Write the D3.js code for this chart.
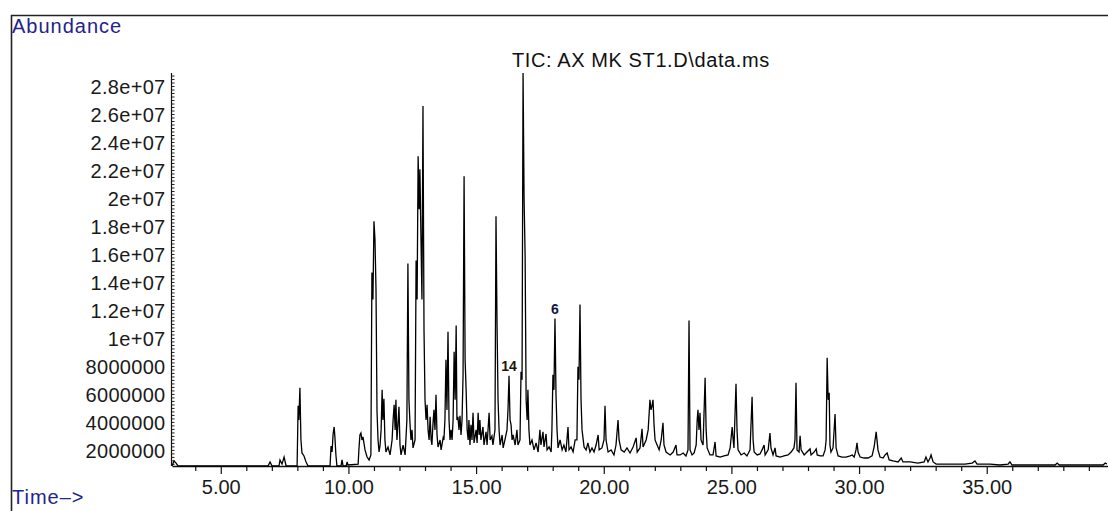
<!DOCTYPE html>
<html><head><meta charset="utf-8">
<script src="https://cdn.jsdelivr.net/npm/d3@7"></script>
<style>
body{margin:0;background:#fff;}
svg{display:block;}
text{font-family:"Liberation Sans",Arial,sans-serif;}
</style></head><body>
<svg id="chart" width="1108" height="511"></svg>
<script>
// ---------- data ----------
const titleText = "TIC: AX MK ST1.D\\data.ms";
const yAxisTitle = "Abundance";
const xAxisTitle = "Time\u2013>";
const yTickValues = [2e6,4e6,6e6,8e6,1e7,1.2e7,1.4e7,1.6e7,1.8e7,2e7,2.2e7,2.4e7,2.6e7,2.8e7];
const yTickLabels = ["2000000","4000000","6000000","8000000","1e+07","1.2e+07","1.4e+07","1.6e+07","1.8e+07","2e+07","2.2e+07","2.4e+07","2.6e+07","2.8e+07"];
const xTickValues = [5,10,15,20,25,30,35];
const xTickLabels = ["5.00","10.00","15.00","20.00","25.00","30.00","35.00"];
const timeDomain = [3.09, 39.75];        // minutes
const abundanceDomain = [850000, 2.893e7];
// TIC trace: [retention time (min), abundance (millions of counts)]
const ticTrace = [
[3.09,0.85],[3.17,1.21],[3.25,1.06],[3.33,0.85],
[6.85,0.85],[6.93,1.14],[7.01,0.85],
[7.28,0.85],[7.32,1.28],[7.40,0.99],[7.48,1.49],[7.56,0.85],
[7.99,0.85],[8.03,5.15],[8.06,4.14],[8.10,6.44],[8.14,2.71],[8.18,1.78],[8.26,1.57],[8.34,1.14],[8.42,0.85],
[9.28,0.85],[9.32,2.28],[9.36,1.85],[9.40,3.14],[9.44,3.64],[9.47,2.93],[9.51,1.64],[9.55,0.85],
[9.71,0.85],[9.75,1.28],[9.79,0.85],[9.91,0.85],[9.95,1.14],[9.98,0.92],
[10.38,0.99],[10.41,2.0],[10.45,3.07],[10.49,3.21],[10.53,2.71],[10.57,2.93],[10.65,2.0],[10.73,1.49],[10.81,1.28],[10.88,1.64],
[10.92,14.67],[10.96,12.74],[11.00,18.33],[11.04,17.04],[11.08,13.46],[11.12,4.72],[11.16,2.71],[11.20,1.85],[11.24,2.35],[11.28,3.43],
[11.32,6.29],[11.35,4.14],[11.39,5.65],[11.43,2.71],[11.47,1.85],[11.55,2.21],[11.63,1.64],[11.71,2.71],[11.75,4.14],[11.79,5.22],
[11.83,3.43],[11.86,5.58],[11.90,2.71],[11.94,3.79],[11.98,5.08],[12.02,2.35],[12.06,1.64],[12.14,2.35],[12.22,1.64],[12.29,4.14],
[12.33,15.32],[12.37,5.58],[12.41,3.93],[12.45,2.71],[12.49,3.43],[12.53,2.14],[12.61,2.71],[12.65,15.53],[12.69,12.74],[12.73,22.98],
[12.77,19.19],[12.80,22.05],[12.84,17.25],[12.88,12.74],[12.92,26.57],[12.96,10.59],[13.00,5.58],[13.04,4.14],[13.08,5.22],[13.12,3.43],
[13.16,2.71],[13.20,4.36],[13.24,2.71],[13.27,2.35],[13.31,3.79],[13.35,4.86],[13.39,3.43],[13.43,5.94],[13.47,3.07],[13.51,2.21],
[13.59,2.71],[13.63,2.0],[13.71,2.86],[13.74,2.71],[13.78,4.14],[13.82,8.44],[13.86,4.86],[13.90,10.45],[13.94,4.14],[13.98,2.71],
[14.02,3.43],[14.06,2.71],[14.10,4.14],[14.14,9.02],[14.18,5.58],[14.22,10.88],[14.25,4.14],[14.29,4.36],[14.33,3.43],[14.37,4.43],
[14.41,3.07],[14.45,4.14],[14.49,7.37],[14.53,21.55],[14.57,8.44],[14.61,6.29],[14.65,3.43],[14.69,2.71],[14.72,4.14],[14.76,2.35],
[14.80,3.79],[14.84,2.71],[14.88,4.65],[14.92,2.5],[15.00,3.43],[15.04,2.5],[15.08,4.65],[15.12,3.07],[15.15,4.14],[15.19,2.71],
[15.27,3.64],[15.31,2.35],[15.39,3.29],[15.43,2.35],[15.51,4.65],[15.55,2.71],[15.62,3.0],[15.66,2.35],[15.74,3.43],[15.78,18.69],
[15.82,11.09],[15.86,5.58],[15.90,3.43],[15.94,2.35],[16.02,3.07],[16.06,2.14],[16.13,2.71],[16.21,3.43],[16.25,4.86],[16.29,7.30],
[16.33,4.14],[16.37,3.79],[16.41,2.71],[16.45,3.07],[16.53,2.35],[16.60,3.43],[16.64,2.35],[16.72,2.71],[16.76,7.58],[16.80,7.01],
[16.84,28.93],[16.88,19.9],[16.92,15.96],[16.96,5.58],[17.00,4.14],[17.03,6.29],[17.07,3.43],[17.11,2.35],[17.19,2.71],[17.27,2.0],
[17.35,2.5],[17.43,1.85],[17.50,3.43],[17.54,2.35],[17.62,3.29],[17.66,2.21],[17.74,3.14],[17.78,2.0],[17.86,2.21],[17.94,1.85],
[17.97,3.43],[18.01,7.37],[18.05,6.29],[18.09,11.38],[18.13,5.94],[18.17,3.43],[18.21,2.14],[18.29,2.71],[18.37,2.0],[18.44,2.35],
[18.52,1.85],[18.60,3.64],[18.64,2.0],[18.72,2.21],[18.80,1.85],[18.88,2.71],[18.95,2.71],[18.99,7.94],[19.03,7.01],[19.07,12.38],
[19.11,5.58],[19.15,3.43],[19.23,2.21],[19.31,2.0],[19.38,2.5],[19.46,1.85],[19.54,2.14],[19.62,1.85],[19.70,2.35],[19.78,3.07],
[19.82,2.0],[19.93,2.14],[20.01,2.71],[20.05,5.15],[20.09,2.71],[20.17,1.85],[20.29,2.0],[20.40,1.64],[20.48,2.35],[20.56,4.14],
[20.60,2.71],[20.68,2.0],[20.80,1.85],[20.91,2.14],[21.03,1.78],[21.15,2.21],[21.27,2.86],[21.31,1.85],[21.42,2.14],[21.50,3.50],
[21.54,2.21],[21.66,2.71],[21.74,3.43],[21.81,5.58],[21.85,4.86],[21.89,5.15],[21.93,5.58],[21.97,3.79],[22.01,2.71],[22.09,2.35],
[22.17,2.0],[22.25,2.71],[22.32,3.93],[22.36,2.35],[22.44,1.85],[22.60,1.64],[22.72,1.85],[22.83,2.35],[22.87,1.64],[22.99,1.64],
[23.11,1.78],[23.22,1.57],[23.30,2.0],[23.34,11.24],[23.38,2.0],[23.46,1.64],[23.54,1.78],[23.62,2.35],[23.66,4.14],[23.69,4.86],
[23.73,3.43],[23.77,4.65],[23.81,2.71],[23.89,2.35],[23.97,7.15],[24.01,3.43],[24.05,2.14],[24.16,1.64],[24.28,1.64],[24.36,2.57],
[24.40,1.57],[24.56,1.49],[24.71,1.57],[24.87,1.64],[24.95,2.14],[25.03,3.64],[25.07,2.71],[25.10,2.14],[25.18,6.72],[25.22,3.43],
[25.26,2.0],[25.38,1.64],[25.50,1.78],[25.61,1.57],[25.73,2.0],[25.81,5.79],[25.85,2.71],[25.89,1.85],[26.01,1.64],[26.12,1.71],
[26.20,2.0],[26.28,2.35],[26.32,1.64],[26.44,2.0],[26.51,3.21],[26.55,2.14],[26.63,1.64],[26.71,2.14],[26.75,1.57],[26.91,1.49],
[27.06,1.57],[27.22,1.64],[27.34,1.85],[27.45,2.14],[27.49,2.71],[27.53,6.8],[27.57,2.0],[27.65,1.85],[27.69,3.0],[27.73,2.0],
[27.85,1.64],[27.96,1.85],[28.08,2.07],[28.12,1.64],[28.24,1.85],[28.32,2.07],[28.36,1.64],[28.47,1.57],[28.59,1.57],[28.67,2.0],
[28.71,2.71],[28.75,8.59],[28.79,5.58],[28.83,6.08],[28.86,2.35],[28.90,1.85],[28.98,2.14],[29.06,4.57],[29.10,2.14],[29.18,1.57],
[29.33,1.49],[29.49,1.49],[29.65,1.57],[29.73,1.64],[29.81,1.49],[29.88,2.0],[29.92,2.5],[29.96,1.85],[30.04,1.49],[30.20,1.42],
[30.35,1.42],[30.51,1.57],[30.59,2.21],[30.67,3.29],[30.71,2.57],[30.74,2.0],[30.82,1.49],[30.94,1.42],[31.02,1.64],[31.10,1.78],
[31.18,1.28],[31.33,1.21],[31.53,1.14],[31.65,1.42],[31.72,1.14],[32.00,1.14],[32.31,1.06],[32.55,1.14],[32.62,1.49],[32.70,1.14],
[32.78,1.42],[32.82,1.64],[32.90,1.14],[33.02,0.99],[33.37,0.99],[33.76,0.99],[34.15,0.99],[34.43,1.06],[34.54,1.21],[34.62,0.99],
[35.13,0.99],[35.52,0.92],[35.84,0.99],[35.91,1.14],[35.99,0.92],[36.70,0.92],[37.09,0.92],[37.68,0.92],[37.76,1.06],[37.84,0.92],
[38.46,0.92],[39.05,0.92],[39.56,0.92],[39.64,1.06],[39.71,0.99]
];
const peakLabels = ["14", "6"];
const peakTimes = [16.29, 18.09];
const peakAbundances = [7.30e6, 11.38e6];

// ---------- drawing ----------
const svg = d3.select("#chart");
const navy = "#23238c";
const x = d3.scaleLinear().domain(timeDomain).range([172, 1108]);
const y = d3.scaleLinear().domain(abundanceDomain).range([466, 73]);

// outer frame
svg.append("line").attr("x1",11.5).attr("x2",11.5).attr("y1",15).attr("y2",511)
  .attr("stroke","#222").attr("stroke-width",1.6);
svg.append("line").attr("x1",11).attr("x2",1108).attr("y1",15.5).attr("y2",15.5)
  .attr("stroke","#222").attr("stroke-width",1.6);

// texts
svg.append("text").attr("x",12).attr("y",33).attr("font-size",20).attr("letter-spacing",1)
  .attr("fill",navy).text(yAxisTitle);
svg.append("text").attr("x",12).attr("y",504).attr("font-size",20).attr("letter-spacing",1)
  .attr("fill",navy).text(xAxisTitle);
svg.append("text").attr("x",512).attr("y",67).attr("font-size",20).attr("letter-spacing",0.6)
  .attr("fill","#111").text(titleText);

// y axis with labels
const yAxis = d3.axisLeft(y).tickValues(yTickValues)
  .tickFormat((d,i)=>yTickLabels[i]).tickSize(0).tickPadding(6);
const gy = svg.append("g").attr("transform","translate(171.5,0)").call(yAxis);
gy.select(".domain").remove();
gy.selectAll("text").attr("font-size",20).attr("letter-spacing",0.3)
  .attr("fill","#1a1a1a").attr("font-family","'Liberation Sans',Arial,sans-serif")
  .attr("dy","0.36em");
// y axis line + minor ticks
svg.append("line").attr("x1",171.5).attr("x2",171.5).attr("y1",73).attr("y2",466)
  .attr("stroke","#111").attr("stroke-width",1.2);
const yMinor = d3.range(1e6, abundanceDomain[1], 250000);
const gyMinor = svg.append("g").attr("transform","translate(171.5,0)")
  .call(d3.axisRight(y).tickValues(yMinor).tickSize(3).tickFormat(""));
gyMinor.select(".domain").remove();
gyMinor.selectAll("line").attr("stroke","#222").attr("stroke-width",1);

// x axis
const xMinor = d3.range(4, 40, 1).filter(v=>!xTickValues.includes(v));
const gxMinor = svg.append("g").attr("transform","translate(0,466)")
  .call(d3.axisBottom(x).tickValues(xMinor).tickSize(5).tickFormat(""));
gxMinor.select(".domain").remove();
gxMinor.selectAll("line").attr("stroke","#111").attr("stroke-width",1.2);
const gx = svg.append("g").attr("transform","translate(0,466)")
  .call(d3.axisBottom(x).tickValues(xTickValues).tickFormat((d,i)=>xTickLabels[i])
    .tickSize(8).tickSizeOuter(0).tickPadding(6));
gx.select(".domain").attr("stroke","#111").attr("stroke-width",1.4);
gx.selectAll(".tick line").attr("stroke","#111").attr("stroke-width",1.2);
gx.selectAll("text").attr("font-size",20).attr("fill","#1a1a1a")
  .attr("font-family","'Liberation Sans',Arial,sans-serif");

// trace
const line = d3.line().x(d=>x(d[0])).y(d=>y(d[1]*1e6));
svg.append("path").datum(ticTrace).attr("d",line)
  .attr("fill","none").attr("stroke","#000").attr("stroke-width",1.3)
  .attr("stroke-linejoin","miter");

// peak annotations
svg.selectAll(".plabel").data(peakLabels).enter().append("text")
  .attr("class","plabel")
  .attr("x",(d,i)=>x(peakTimes[i]))
  .attr("y",(d,i)=>y(peakAbundances[i]) - 5)
  .attr("text-anchor","middle")
  .attr("font-family","'Liberation Serif','Times New Roman',serif")
  .attr("font-weight","bold").attr("font-size",14)
  .attr("fill",(d,i)=> i===0 ? "#1b1410" : "#111a3a")
  .text(d=>d);
</script>
</body></html>
